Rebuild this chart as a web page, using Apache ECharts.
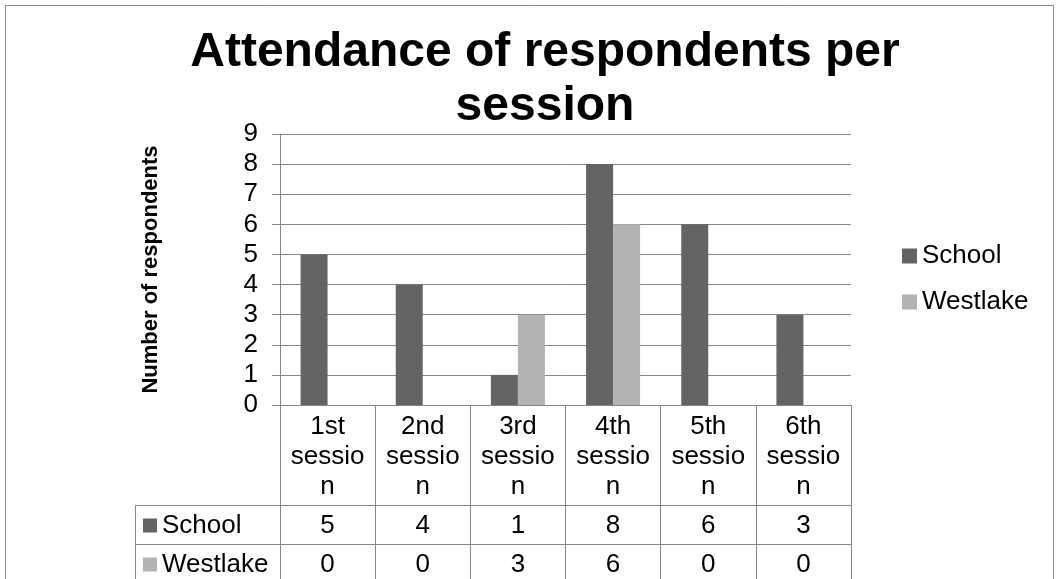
<!DOCTYPE html>
<html>
<head>
<meta charset="utf-8">
<script src="https://cdn.jsdelivr.net/npm/echarts@6/dist/echarts.min.js"></script>
<style>
html,body{margin:0;padding:0;background:#fff;}
#chart{width:1059px;height:579px;}
</style>
</head>
<body>
<div id="chart"></div>
<script>
const categories = ['1st session', '2nd session', '3rd session', '4th session', '5th session', '6th session'];
const seriesNames = ['School', 'Westlake'];
const school = [5, 4, 1, 8, 6, 3];
const westlake = [0, 0, 3, 6, 0, 0];
const yTicks = [0, 9, 1]; // min, max, interval

const FONT = 'Liberation Sans, Arial, sans-serif';
const colors = ['#646464', '#b3b3b3'];
const lineColor = '#868686';

const chart = echarts.init(document.getElementById('chart'));

const option = {
  animation: false,
  backgroundColor: '#ffffff',
  textStyle: { fontFamily: FONT },
  title: {
    text: 'Attendance of respondents per\nsession',
    left: 540,
    top: 21,
    textAlign: 'center',
    textStyle: { fontFamily: FONT, fontSize: 48, fontWeight: 'bold', lineHeight: 54, color: '#000' }
  },
  legend: {
    orient: 'vertical',
    left: 897,
    top: 238,
    itemWidth: 15,
    itemHeight: 15,
    itemGap: 20,
    icon: 'rect',
    data: seriesNames,
    textStyle: { fontFamily: FONT, fontSize: 26, color: '#000' }
  },
  grid: { left: 280, right: 208, top: 134, bottom: 174 },
  xAxis: {
    type: 'category',
    data: categories,
    axisLine: { show: true, lineStyle: { color: lineColor, width: 1 } },
    axisTick: { show: true, length: 174, lineStyle: { color: lineColor, width: 1 } },
    axisLabel: {
      interval: 0,
      margin: 7,
      fontSize: 26,
      lineHeight: 30,
      color: '#000',
      fontFamily: FONT,
      formatter: v => v.replace(' session', '\nsessio\nn')
    }
  },
  yAxis: {
    type: 'value',
    min: yTicks[0],
    max: yTicks[1],
    interval: yTicks[2],
    name: 'Number of respondents',
    nameLocation: 'middle',
    nameGap: 118,
    nameTextStyle: { fontFamily: FONT, fontSize: 22, fontWeight: 'bold', color: '#000' },
    axisLine: { show: true, lineStyle: { color: lineColor, width: 1 } },
    axisTick: { show: true, length: 8, lineStyle: { color: lineColor, width: 1 } },
    axisLabel: { fontSize: 26, margin: 22, color: '#000', fontFamily: FONT },
    splitLine: { show: true, lineStyle: { color: lineColor, width: 1 } }
  },
  series: [
    { type: 'bar', name: seriesNames[0], data: school, barWidth: 27, barGap: '0%', itemStyle: { color: colors[0] } },
    { type: 'bar', name: seriesNames[1], data: westlake, barWidth: 27, barGap: '0%', itemStyle: { color: colors[1] } }
  ]
};

chart.setOption(option);

// Data table below the axis
const tableLeft = 135, axisY = 405, row1Top = 505, row2Top = 544, bottomY = 579;
const gridRight = 1059 - 208;
const rows = [school, westlake];
const rowTops = [row1Top, row2Top];
const rowH = 39;
const g = [];
// outer chart border
g.push({ type: 'rect', shape: { x: 5.5, y: 5.5, width: 1048, height: 620 }, style: { fill: 'none', stroke: '#8c8c8c', lineWidth: 1 }, silent: true });
// horizontal table lines
rowTops.forEach(y => {
  g.push({ type: 'line', shape: { x1: tableLeft, y1: y + 0.5, x2: gridRight, y2: y + 0.5 }, style: { stroke: lineColor, lineWidth: 1 } });
});
g.push({ type: 'line', shape: { x1: tableLeft + 0.5, y1: row1Top, x2: tableLeft + 0.5, y2: bottomY + 5 }, style: { stroke: lineColor, lineWidth: 1 } });

rows.forEach((vals, r) => {
  const cy = rowTops[r] + rowH / 2 + 1;
  g.push({ type: 'rect', shape: { x: 143, y: cy - 7, width: 14, height: 14 }, style: { fill: colors[r] } });
  g.push({ type: 'text', x: 162, y: cy, style: { text: seriesNames[r], font: '26px ' + FONT, fill: '#000', textAlign: 'left', textVerticalAlign: 'middle' } });
  vals.forEach((v, i) => {
    const x = chart.convertToPixel({ xAxisIndex: 0 }, categories[i]);
    g.push({ type: 'text', x: x, y: cy, style: { text: String(v), font: '26px ' + FONT, fill: '#000', textAlign: 'center', textVerticalAlign: 'middle' } });
  });
});

chart.setOption({ graphic: g });
</script>
</body>
</html>
